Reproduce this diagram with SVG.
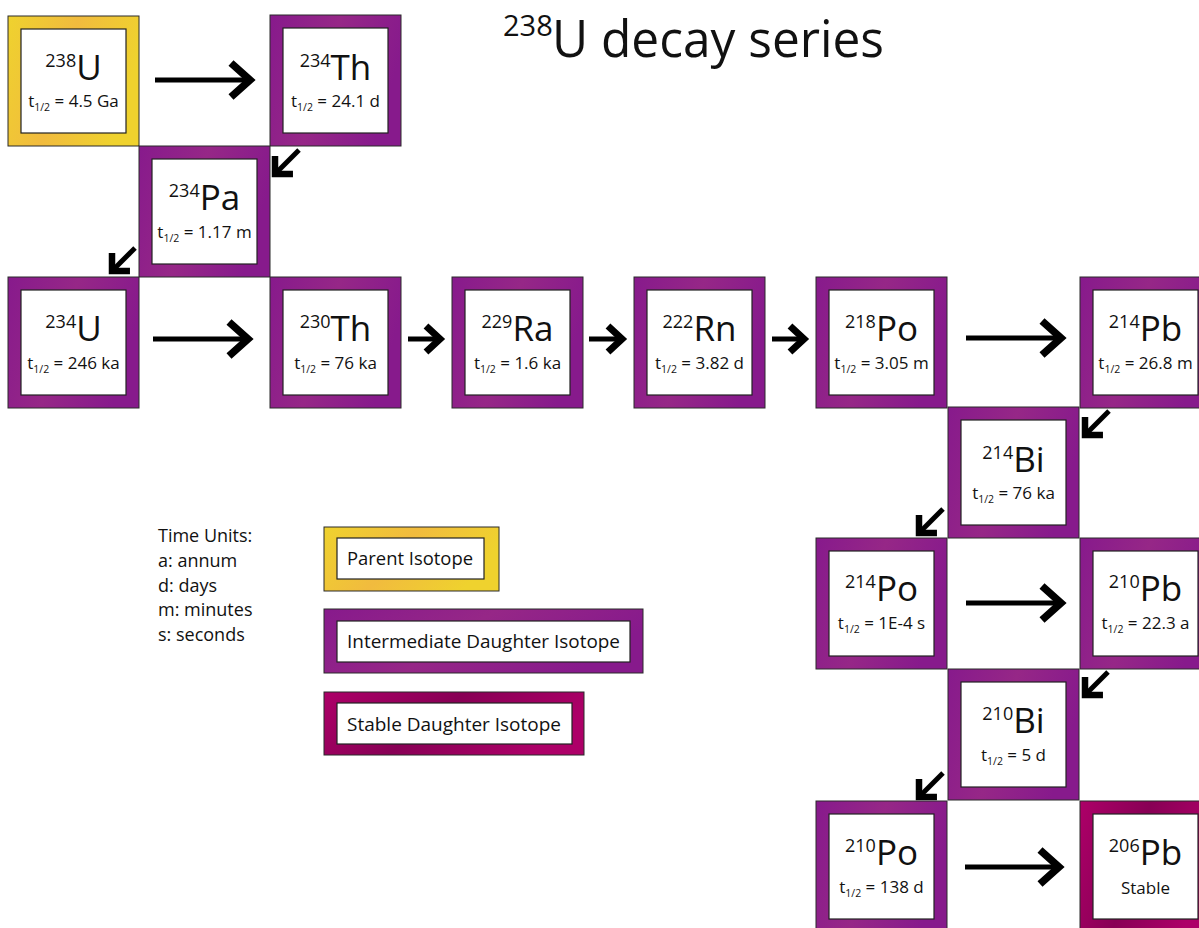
<svg xmlns="http://www.w3.org/2000/svg" width="1199" height="928" viewBox="0 0 1199 928">
<style>
text{font-family:"Open Sans","Liberation Sans",sans-serif;fill:#111}
.outer{stroke:#2a2a2a;stroke-width:1}
.inner{fill:#fff;stroke:#222;stroke-width:1.2}
.p{fill:url(#gp)}
.y{fill:url(#gy)}
.m{fill:url(#gm)}
.sym{font-size:35px}
.sup{font-size:18px}
.hl{font-size:17px}
.sub{font-size:10.5px}
.leg{font-size:18px}
.conn line{stroke:#000;stroke-width:5}
.long{marker-end:url(#ahL)}
.short{marker-end:url(#ahS)}
.diag{marker-end:url(#ahD)}
</style>
<defs>
<linearGradient id="gp" x1="0" y1="0" x2="1" y2="0.3">
<stop offset="0" stop-color="#871a8c"/><stop offset="0.5" stop-color="#962787"/><stop offset="1" stop-color="#871a8c"/>
</linearGradient>
<linearGradient id="gy" x1="0" y1="0" x2="1" y2="0.3">
<stop offset="0" stop-color="#efd22e"/><stop offset="0.5" stop-color="#f1bb3e"/><stop offset="1" stop-color="#efd22e"/>
</linearGradient>
<linearGradient id="gm" x1="0" y1="0" x2="1" y2="0.3">
<stop offset="0" stop-color="#ad0068"/><stop offset="0.5" stop-color="#880055"/><stop offset="1" stop-color="#ad0068"/>
</linearGradient>
<marker id="ahL" markerUnits="userSpaceOnUse" viewBox="-30 -25 45 50" refX="0" refY="0" markerWidth="45" markerHeight="50" orient="auto" overflow="visible">
<path d="M-19,-17 L0,0 L-19,17" fill="none" stroke="#000" stroke-width="7.5" stroke-miterlimit="10"/>
</marker>
<marker id="ahS" markerUnits="userSpaceOnUse" viewBox="-25 -20 35 40" refX="0" refY="0" markerWidth="35" markerHeight="40" orient="auto" overflow="visible">
<path d="M-14,-13 L0,0 L-14,13" fill="none" stroke="#000" stroke-width="7" stroke-miterlimit="10"/>
</marker>
<marker id="ahD" markerUnits="userSpaceOnUse" viewBox="-25 -25 35 50" refX="0" refY="0" markerWidth="35" markerHeight="50" orient="auto" overflow="visible">
<path d="M-12.7,-12.7 L0,0 L-12.7,12.7" fill="none" stroke="#000" stroke-width="6.5" stroke-miterlimit="10"/>
</marker>
</defs>

<g id="title">
<text x="503" y="36" font-size="29">238</text>
<text x="552" y="57" font-size="52" textLength="332" lengthAdjust="spacingAndGlyphs">U decay series</text>
</g>

<g id="connectors" class="conn">
<line class="long" x1="155" y1="80" x2="250" y2="80"/>
<line class="diag" x1="299" y1="150" x2="275" y2="174"/>
<line class="diag" x1="135" y1="248" x2="112" y2="271"/>
<line class="long" x1="153" y1="339" x2="248" y2="339"/>
<line class="short" x1="408" y1="339" x2="440" y2="339"/>
<line class="short" x1="589" y1="339" x2="622" y2="339"/>
<line class="short" x1="772" y1="339" x2="804" y2="339"/>
<line class="long" x1="966" y1="338" x2="1061" y2="338"/>
<line class="diag" x1="1109" y1="411" x2="1085" y2="435"/>
<line class="diag" x1="943" y1="509" x2="919" y2="533"/>
<line class="long" x1="966" y1="603" x2="1061" y2="603"/>
<line class="diag" x1="1108" y1="672" x2="1085" y2="695"/>
<line class="diag" x1="943" y1="773" x2="919" y2="797"/>
<line class="long" x1="965" y1="867" x2="1059" y2="867"/>
</g>

<g id="n-U238" transform="translate(8,16)">
<rect class="outer y" width="131" height="130"/><rect class="inner" x="13" y="13" width="105" height="104"/>
<text x="65.5" y="64" text-anchor="middle"><tspan class="sup" dy="-13">238</tspan><tspan class="sym" dy="13">U</tspan></text>
<text class="hl" x="65.5" y="91" text-anchor="middle">t<tspan class="sub" dy="4">1/2</tspan><tspan dy="-4"> = 4.5 Ga</tspan></text>
</g>
<g id="n-Th234" transform="translate(270,15)">
<rect class="outer p" width="131" height="131"/><rect class="inner" x="13" y="13" width="105" height="105"/>
<text x="65.5" y="65" text-anchor="middle"><tspan class="sup" dy="-13">234</tspan><tspan class="sym" dy="13">Th</tspan></text>
<text class="hl" x="65.5" y="92" text-anchor="middle">t<tspan class="sub" dy="4">1/2</tspan><tspan dy="-4"> = 24.1 d</tspan></text>
</g>
<g id="n-Pa234" transform="translate(139,146)">
<rect class="outer p" width="131" height="131"/><rect class="inner" x="13" y="13" width="105" height="105"/>
<text x="65.5" y="64" text-anchor="middle"><tspan class="sup" dy="-13">234</tspan><tspan class="sym" dy="13">Pa</tspan></text>
<text class="hl" x="65.5" y="92" text-anchor="middle">t<tspan class="sub" dy="4">1/2</tspan><tspan dy="-4"> = 1.17 m</tspan></text>
</g>
<g id="n-U234" transform="translate(8,277)">
<rect class="outer p" width="131" height="131"/><rect class="inner" x="13" y="13" width="105" height="105"/>
<text x="65.5" y="64" text-anchor="middle"><tspan class="sup" dy="-13">234</tspan><tspan class="sym" dy="13">U</tspan></text>
<text class="hl" x="65.5" y="92" text-anchor="middle">t<tspan class="sub" dy="4">1/2</tspan><tspan dy="-4"> = 246 ka</tspan></text>
</g>
<g id="n-Th230" transform="translate(270,277)">
<rect class="outer p" width="131" height="131"/><rect class="inner" x="13" y="13" width="105" height="105"/>
<text x="65.5" y="64" text-anchor="middle"><tspan class="sup" dy="-13">230</tspan><tspan class="sym" dy="13">Th</tspan></text>
<text class="hl" x="65.5" y="92" text-anchor="middle">t<tspan class="sub" dy="4">1/2</tspan><tspan dy="-4"> = 76 ka</tspan></text>
</g>
<g id="n-Ra229" transform="translate(452,277)">
<rect class="outer p" width="131" height="131"/><rect class="inner" x="13" y="13" width="105" height="105"/>
<text x="65.5" y="64" text-anchor="middle"><tspan class="sup" dy="-13">229</tspan><tspan class="sym" dy="13">Ra</tspan></text>
<text class="hl" x="65.5" y="92" text-anchor="middle">t<tspan class="sub" dy="4">1/2</tspan><tspan dy="-4"> = 1.6 ka</tspan></text>
</g>
<g id="n-Rn222" transform="translate(634,277)">
<rect class="outer p" width="131" height="131"/><rect class="inner" x="13" y="13" width="105" height="105"/>
<text x="65.5" y="64" text-anchor="middle"><tspan class="sup" dy="-13">222</tspan><tspan class="sym" dy="13">Rn</tspan></text>
<text class="hl" x="65.5" y="92" text-anchor="middle">t<tspan class="sub" dy="4">1/2</tspan><tspan dy="-4"> = 3.82 d</tspan></text>
</g>
<g id="n-Po218" transform="translate(816,277)">
<rect class="outer p" width="131" height="131"/><rect class="inner" x="13" y="13" width="105" height="105"/>
<text x="65.5" y="64" text-anchor="middle"><tspan class="sup" dy="-13">218</tspan><tspan class="sym" dy="13">Po</tspan></text>
<text class="hl" x="65.5" y="92" text-anchor="middle">t<tspan class="sub" dy="4">1/2</tspan><tspan dy="-4"> = 3.05 m</tspan></text>
</g>
<g id="n-Pb214" transform="translate(1080,277)">
<rect class="outer p" width="131" height="131"/><rect class="inner" x="13" y="13" width="105" height="105"/>
<text x="65.5" y="64" text-anchor="middle"><tspan class="sup" dy="-13">214</tspan><tspan class="sym" dy="13">Pb</tspan></text>
<text class="hl" x="65.5" y="92" text-anchor="middle">t<tspan class="sub" dy="4">1/2</tspan><tspan dy="-4"> = 26.8 m</tspan></text>
</g>
<g id="n-Bi214" transform="translate(948,407)">
<rect class="outer p" width="131" height="131"/><rect class="inner" x="13" y="13" width="105" height="105"/>
<text x="65.5" y="65" text-anchor="middle"><tspan class="sup" dy="-13">214</tspan><tspan class="sym" dy="13">Bi</tspan></text>
<text class="hl" x="65.5" y="92" text-anchor="middle">t<tspan class="sub" dy="4">1/2</tspan><tspan dy="-4"> = 76 ka</tspan></text>
</g>
<g id="n-Po214" transform="translate(816,538)">
<rect class="outer p" width="131" height="131"/><rect class="inner" x="13" y="13" width="105" height="105"/>
<text x="65.5" y="63" text-anchor="middle"><tspan class="sup" dy="-13">214</tspan><tspan class="sym" dy="13">Po</tspan></text>
<text class="hl" x="65.5" y="91" text-anchor="middle">t<tspan class="sub" dy="4">1/2</tspan><tspan dy="-4"> = 1E-4 s</tspan></text>
</g>
<g id="n-Pb210" transform="translate(1080,538)">
<rect class="outer p" width="131" height="131"/><rect class="inner" x="13" y="13" width="105" height="105"/>
<text x="65.5" y="63" text-anchor="middle"><tspan class="sup" dy="-13">210</tspan><tspan class="sym" dy="13">Pb</tspan></text>
<text class="hl" x="65.5" y="91" text-anchor="middle">t<tspan class="sub" dy="4">1/2</tspan><tspan dy="-4"> = 22.3 a</tspan></text>
</g>
<g id="n-Bi210" transform="translate(948,669)">
<rect class="outer p" width="131" height="131"/><rect class="inner" x="13" y="13" width="105" height="105"/>
<text x="65.5" y="64" text-anchor="middle"><tspan class="sup" dy="-13">210</tspan><tspan class="sym" dy="13">Bi</tspan></text>
<text class="hl" x="65.5" y="92" text-anchor="middle">t<tspan class="sub" dy="4">1/2</tspan><tspan dy="-4"> = 5 d</tspan></text>
</g>
<g id="n-Po210" transform="translate(816,801)">
<rect class="outer p" width="131" height="131"/><rect class="inner" x="13" y="13" width="105" height="105"/>
<text x="65.5" y="64" text-anchor="middle"><tspan class="sup" dy="-13">210</tspan><tspan class="sym" dy="13">Po</tspan></text>
<text class="hl" x="65.5" y="92" text-anchor="middle">t<tspan class="sub" dy="4">1/2</tspan><tspan dy="-4"> = 138 d</tspan></text>
</g>
<g id="n-Pb206" transform="translate(1080,801)">
<rect class="outer m" width="131" height="131"/><rect class="inner" x="13" y="13" width="105" height="105"/>
<text x="65.5" y="64" text-anchor="middle"><tspan class="sup" dy="-13">206</tspan><tspan class="sym" dy="13">Pb</tspan></text>
<text class="hl" x="65.5" y="93" text-anchor="middle">Stable</text>
</g>

<g id="legend-units">
<text class="leg" x="158" y="542">Time Units:</text>
<text class="leg" x="158" y="567">a: annum</text>
<text class="leg" x="158" y="592">d: days</text>
<text class="leg" x="158" y="616">m: minutes</text>
<text class="leg" x="158" y="641">s: seconds</text>
</g>
<g id="legend-parent">
<rect class="outer y" x="324" y="527" width="175" height="64"/><rect class="inner" x="337" y="538" width="147" height="41"/>
<text class="leg" x="347" y="565" textLength="126" lengthAdjust="spacingAndGlyphs">Parent Isotope</text>
</g>
<g id="legend-intermediate">
<rect class="outer p" x="324" y="609" width="319" height="64"/><rect class="inner" x="337" y="621" width="293" height="41"/>
<text class="leg" x="347" y="648" textLength="273" lengthAdjust="spacingAndGlyphs">Intermediate Daughter Isotope</text>
</g>
<g id="legend-stable">
<rect class="outer m" x="324" y="692" width="260" height="63"/><rect class="inner" x="337" y="703" width="235" height="41"/>
<text class="leg" x="347" y="731" textLength="214" lengthAdjust="spacingAndGlyphs">Stable Daughter Isotope</text>
</g>
</svg>
